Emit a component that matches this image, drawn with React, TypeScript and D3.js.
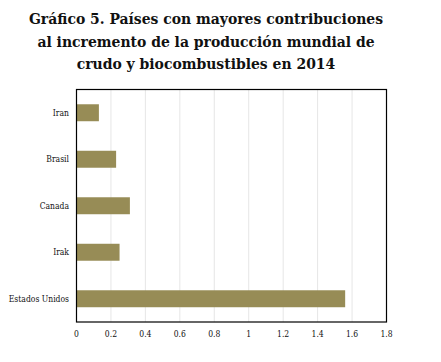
import React from "react";
import * as d3 from "d3";

const categories = ["Iran", "Brasil", "Canada", "Irak", "Estados Unidos"];
const values = [0.13, 0.23, 0.31, 0.25, 1.56];
const xTicks = [0, 0.2, 0.4, 0.6, 0.8, 1, 1.2, 1.4, 1.6, 1.8];
const tickLabels = ["0", "0.2", "0.4", "0.6", "0.8", "1", "1.2", "1.4", "1.6", "1.8"];
const titleLines = [
  "Gráfico 5. Países con mayores contribuciones",
  "al incremento de la producción mundial de",
  "crudo y biocombustibles en 2014",
];

const W = 441;
const H = 362;
const plot = { left: 76.5, right: 386.5, top: 89.5, bottom: 322 };
const serif = "DejaVu Serif";

export default function App() {
  const x = d3.scaleLinear().domain([0, 1.8]).range([plot.left, plot.right]);
  const y = d3
    .scaleBand<string>()
    .domain(categories)
    .range([plot.top, plot.bottom])
    .paddingInner(0.635)
    .paddingOuter(0.3175);

  const small = { fontFamily: serif, fontSize: "8.5px", fontStretch: "condensed" } as React.CSSProperties;

  return (
    <svg
      width={W}
      height={H}
      style={{ position: "absolute", left: 0, top: 0, background: "#fff" }}
    >
      {titleLines.map((t, i) => (
        <text
          key={i}
          x={206}
          y={24 + i * 22.5}
          textAnchor="middle"
          style={{ fontFamily: serif, fontWeight: "bold", fontSize: "15.5px", fontStretch: "condensed" }}
          fill="#111"
        >
          {t}
        </text>
      ))}
      {xTicks.map((t) =>
        t > 0 && t < 1.8 ? (
          <line
            key={"g" + t}
            x1={x(t)}
            x2={x(t)}
            y1={plot.top}
            y2={plot.bottom}
            stroke="#e6e6e6"
            strokeWidth={1}
          />
        ) : null
      )}
      {categories.map((c, i) => (
        <rect
          key={c}
          x={x(0)}
          y={y(c)}
          width={x(values[i]) - x(0)}
          height={y.bandwidth()}
          fill="#978c56"
        />
      ))}
      <rect
        x={plot.left}
        y={plot.top}
        width={plot.right - plot.left}
        height={plot.bottom - plot.top}
        fill="none"
        stroke="#000"
        strokeWidth={1.2}
      />
      {categories.map((c) => (
        <text
          key={"l" + c}
          x={69}
          y={(y(c) as number) + y.bandwidth() / 2 + 3}
          textAnchor="end"
          style={small}
          fill="#111"
        >
          {c}
        </text>
      ))}
      {xTicks.map((t, i) => (
        <text
          key={"t" + t}
          x={x(t)}
          y={337}
          textAnchor="middle"
          style={small}
          fill="#111"
        >
          {tickLabels[i]}
        </text>
      ))}
    </svg>
  );
}
